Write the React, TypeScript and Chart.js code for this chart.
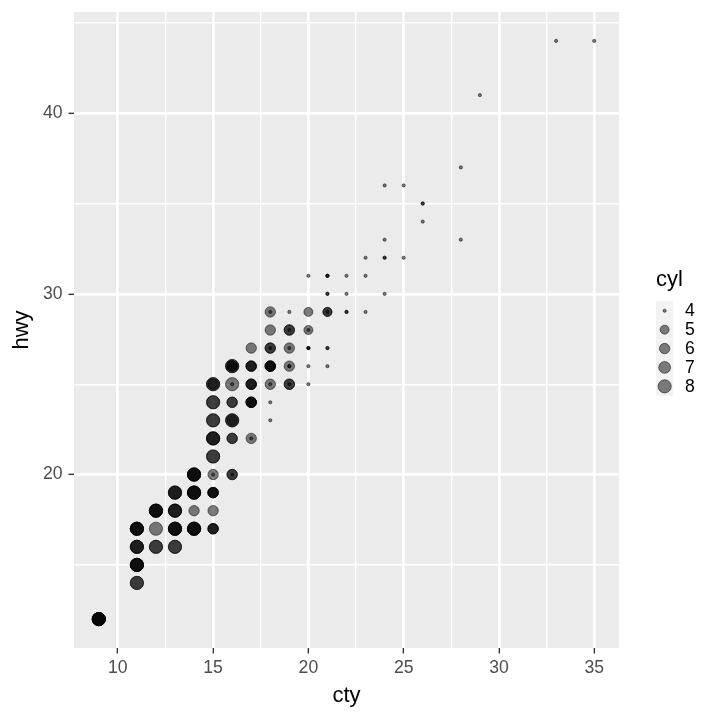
import { useEffect, useRef } from "react";
import { Chart, registerables } from "chart.js";

Chart.register(...registerables);

// Each entry is one visible mark location; pointCounts = how many overlapping cars sit there
const ctyValues = [
  9,
  11, 11, 11, 11,
  12, 12, 12,
  13, 13, 13, 13,
  14, 14, 14, 14,
  15, 15, 15, 15, 15, 15, 15, 15, 15, 15, 15,
  16, 16, 16, 16, 16, 16, 16, 16, 16, 16,
  17, 17, 17, 17, 17, 17,
  18, 18, 18, 18, 18, 18, 18, 18, 18, 18,
  19, 19, 19, 19, 19, 19, 19, 19, 19,
  20, 20, 20, 20, 20, 20, 20,
  21, 21, 21, 21, 21, 21,
  22, 22, 22,
  23, 23, 23,
  24, 24, 24, 24,
  25, 25,
  26, 26,
  28, 28,
  29,
  33,
  35,
];
const hwyValues = [
  12,
  14, 15, 16, 17,
  16, 17, 18,
  16, 17, 18, 19,
  17, 18, 19, 20,
  17, 18, 19, 20, 20, 21, 22, 23, 24, 25, 25,
  20, 20, 22, 23, 23, 24, 25, 25, 26, 26,
  22, 22, 24, 25, 26, 27,
  23, 24, 25, 25, 26, 27, 27, 28, 29, 29,
  25, 25, 26, 26, 27, 27, 28, 28, 29,
  25, 26, 27, 28, 28, 29, 31,
  26, 27, 29, 29, 30, 31,
  29, 30, 31,
  29, 31, 32,
  30, 32, 33, 36,
  32, 36,
  34, 35,
  33, 37,
  41,
  44,
  44,
];
const cylValues = [
  8,
  8, 8, 8, 8,
  8, 8, 8,
  8, 8, 8, 8,
  8, 6, 8, 8,
  6, 6, 6, 6, 4, 8, 8, 8, 8, 8, 6,
  6, 4, 6, 8, 6, 6, 8, 4, 8, 6,
  6, 4, 6, 6, 6, 6,
  4, 4, 6, 4, 6, 6, 4, 6, 6, 4,
  6, 4, 6, 4, 6, 4, 6, 4, 4,
  4, 4, 4, 5, 4, 5, 4,
  4, 4, 5, 4, 4, 4,
  4, 4, 4,
  4, 4, 4,
  4, 4, 4, 4,
  4, 4,
  4, 4,
  4, 4,
  4,
  4,
  4,
];
const pointCounts = [
  5,
  2, 4, 3, 4,
  2, 1, 4,
  2, 4, 3, 3,
  4, 1, 4, 4,
  3, 1, 4, 1, 1, 2, 3, 2, 2, 2, 1,
  2, 1, 2, 2, 1, 2, 1, 1, 2, 2,
  1, 1, 4, 3, 3, 1,
  1, 1, 1, 1, 4, 2, 1, 1, 1, 1,
  2, 1, 1, 2, 1, 1, 2, 1, 1,
  1, 1, 3, 1, 1, 1, 1,
  1, 2, 2, 1, 2, 3,
  2, 1, 1,
  1, 1, 1,
  1, 2, 1, 1,
  1, 1,
  1, 2,
  1, 1,
  1,
  1,
  1,
];

const xGridValues = [10, 12.5, 15, 17.5, 20, 22.5, 25, 27.5, 30, 32.5, 35];
const xMajorTicks = [10, 15, 20, 25, 30, 35];
const yGridValues = [15, 20, 25, 30, 35, 40, 45];
const yMajorTicks = [20, 30, 40];
const cylLegendBreaks = [4, 5, 6, 7, 8];

const FONT = "'Liberation Sans', Arial, Helvetica, sans-serif";
const POINT_FILL = "rgba(0,0,0,0.5)";
const PANEL_BG = "#EBEBEB";

function radiusForCyl(c: number): number {
  const table: Record<number, number> = { 4: 1.6, 5: 4.5, 6: 5.2, 7: 5.9, 8: 6.6 };
  return table[c] ?? 1.6;
}

const panelBackground = {
  id: "panelBackground",
  beforeDraw(chart: any) {
    const { ctx, chartArea } = chart;
    ctx.save();
    ctx.fillStyle = "#FFFFFF";
    ctx.fillRect(0, 0, chart.width, chart.height);
    ctx.fillStyle = PANEL_BG;
    ctx.fillRect(chartArea.left, chartArea.top, chartArea.right - chartArea.left, chartArea.bottom - chartArea.top);
    ctx.restore();
  },
};

const sizeLegend = {
  id: "sizeLegend",
  afterDraw(chart: any) {
    const { ctx } = chart;
    const x0 = 656;
    const keyW = 17.3;
    const keyH = 18.9;
    const top = 301.3;
    ctx.save();
    ctx.fillStyle = "#000000";
    ctx.font = `22px ${FONT}`;
    ctx.textAlign = "left";
    ctx.textBaseline = "alphabetic";
    ctx.fillText("cyl", x0, 286);
    cylLegendBreaks.forEach((c, i) => {
      const y = top + i * keyH;
      ctx.fillStyle = "#F2F2F2";
      ctx.fillRect(x0, y, keyW, keyH);
    });
    cylLegendBreaks.forEach((c, i) => {
      const cy = top + i * keyH + keyH / 2;
      const cx = x0 + keyW / 2;
      ctx.beginPath();
      ctx.arc(cx, cy, radiusForCyl(c), 0, Math.PI * 2);
      ctx.fillStyle = POINT_FILL;
      ctx.fill();
      ctx.lineWidth = 1;
      ctx.strokeStyle = POINT_FILL;
      ctx.stroke();
      ctx.fillStyle = "#000000";
      ctx.font = `17.6px ${FONT}`;
      ctx.textBaseline = "middle";
      ctx.fillText(String(c), 685, cy + 0.5);
    });
    ctx.restore();
  },
};

export default function App() {
  const canvasRef = useRef<HTMLCanvasElement | null>(null);

  useEffect(() => {
    document.body.style.margin = "0";
    const canvas = canvasRef.current;
    if (!canvas) return;

    const points: { x: number; y: number; cyl: number }[] = [];
    ctyValues.forEach((x, i) => {
      for (let k = 0; k < pointCounts[i]; k++) {
        points.push({ x, y: hwyValues[i], cyl: cylValues[i] });
      }
    });

    const gridCommon = (majors: number[]) => ({
      color: "#FFFFFF",
      lineWidth: (ctx: any) => (majors.includes(ctx.tick?.value) ? 2.7 : 1.4),
      tickColor: (ctx: any) => (majors.includes(ctx.tick?.value) ? "#333333" : "rgba(0,0,0,0)"),
      tickWidth: 1.4,
      tickLength: 5.5,
      drawTicks: true,
      drawOnChartArea: true,
    });

    const chart = new Chart(canvas, {
      type: "scatter",
      data: {
        datasets: [
          {
            data: points as any,
            pointRadius: (ctx: any) => radiusForCyl(ctx.raw?.cyl),
            pointHoverRadius: (ctx: any) => radiusForCyl(ctx.raw?.cyl),
            backgroundColor: POINT_FILL,
            borderColor: POINT_FILL,
            borderWidth: 1,
            pointStyle: "circle",
          },
        ],
      },
      options: {
        responsive: false,
        animation: false,
        events: [],
        layout: { padding: { top: 12, right: 101, bottom: 0, left: 0 } },
        plugins: {
          legend: { display: false },
          tooltip: { enabled: false },
        },
        scales: {
          x: {
            type: "linear",
            min: 7.7,
            max: 36.3,
            bounds: "data",
            afterBuildTicks: (s: any) => {
              s.ticks = xGridValues.map((v) => ({ value: v }));
            },
            afterFit: (s: any) => {
              s.height = 72;
              s.paddingLeft = 0;
              s.paddingRight = 0;
            },
            grid: gridCommon(xMajorTicks) as any,
            border: { display: false },
            ticks: {
              autoSkip: false,
              maxRotation: 0,
              padding: 4.5,
              color: "#4D4D4D",
              font: { family: FONT, size: 17.6 },
              callback: (v: any) => (xMajorTicks.includes(Number(v)) ? String(v) : ""),
            },
            title: {
              display: true,
              text: "cty",
              color: "#000000",
              font: { family: FONT, size: 22 },
              padding: { top: 0, bottom: 10.8 },
            },
          },
          y: {
            type: "linear",
            min: 10.4,
            max: 45.6,
            bounds: "data",
            afterBuildTicks: (s: any) => {
              s.ticks = yGridValues.map((v) => ({ value: v }));
            },
            afterFit: (s: any) => {
              s.width = 74;
              s.paddingTop = 0;
              s.paddingBottom = 0;
            },
            grid: gridCommon(yMajorTicks) as any,
            border: { display: false },
            ticks: {
              autoSkip: false,
              padding: 6,
              color: "#4D4D4D",
              font: { family: FONT, size: 17.6 },
              callback: (v: any) => (yMajorTicks.includes(Number(v)) ? String(v) : ""),
            },
            title: {
              display: true,
              text: "hwy",
              color: "#000000",
              font: { family: FONT, size: 22 },
              padding: { top: 9, bottom: 0 },
            },
          },
        },
      },
      plugins: [panelBackground, sizeLegend],
    });

    return () => {
      chart.destroy();
    };
  }, []);

  return (
    <div>
      <canvas ref={canvasRef} width={720} height={720} style={{ display: "block", width: 720, height: 720 }} />
    </div>
  );
}
